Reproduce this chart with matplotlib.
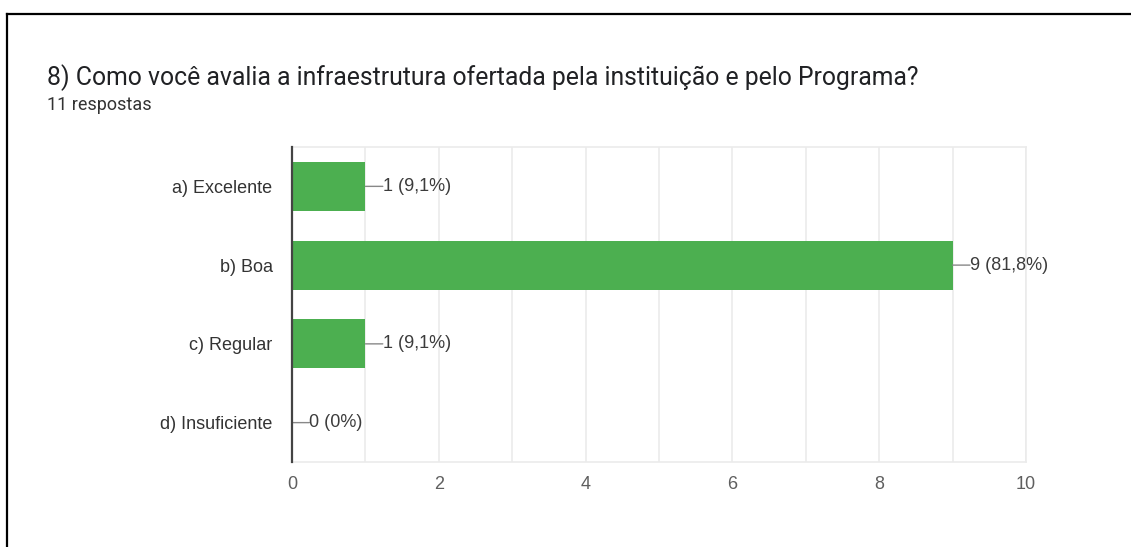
import matplotlib.pyplot as plt
from matplotlib.lines import Line2D

categorias = ['a) Excelente', 'b) Boa', 'c) Regular', 'd) Insuficiente']
respostas = [1, 9, 1, 0]
rotulos = ['1 (9,1%)', '9 (81,8%)', '1 (9,1%)', '0 (0%)']
ticks_x = [0, 2, 4, 6, 8, 10]

plt.rcParams['font.family'] = ['Liberation Sans', 'DejaVu Sans']

fig = plt.figure(figsize=(11.31, 5.47), dpi=100)
ax = fig.add_axes([0.2582, 0.1554, 0.649, 0.5759])

pos = list(range(len(categorias)))
ax.barh(pos, respostas, height=0.62, color='#4caf50', zorder=3)

# grade a cada unidade
ax.set_xlim(0, 10)
ax.set_ylim(3.5, -0.5)
ax.set_xticks(ticks_x)
ax.set_xticks(range(0, 11), minor=True)
ax.grid(axis='x', which='both', color='#ebebeb', linewidth=1.2, zorder=0)
ax.set_xticklabels([str(t) for t in ticks_x], fontsize=13, color='#5f5f5f')
ax.set_yticks(pos)
ax.set_yticklabels(categorias, fontsize=13, color='#333333')
ax.tick_params(which='both', length=0)
ax.tick_params(axis='x', pad=10)
ax.tick_params(axis='y', pad=14)

for s in ['top', 'right', 'bottom']:
    ax.spines[s].set_color('#ebebeb')
    ax.spines[s].set_linewidth(1.2)
ax.spines['left'].set_color('#444444')
ax.spines['left'].set_linewidth(1.6)
ax.spines['left'].set_zorder(4)

# rotulos com linha guia
for i, v in enumerate(respostas):
    ax.annotate('', xy=(v, i), xytext=(12.5, 0), textcoords='offset points',
                arrowprops=dict(arrowstyle='-', color='#888888', lw=1, shrinkA=0, shrinkB=0))
    ax.annotate(rotulos[i], xy=(v, i), xytext=(12.5, 0), textcoords='offset points',
                va='center', ha='left', fontsize=13, color='#3c3c3c')

fig.text(0.0416, 0.845, '8) Como você avalia a infraestrutura ofertada pela instituição e pelo Programa?',
         fontsize=17.8, family=['Roboto', 'DejaVu Sans'], color='#202124', va='baseline')
fig.text(0.0416, 0.798, '11 respostas', fontsize=13, family=['Roboto', 'DejaVu Sans'],
         color='#333333', va='baseline')

# moldura do recorte
fig.add_artist(Line2D([0.0066, 1.0], [0.9735, 0.9735], color='black', lw=1.6, transform=fig.transFigure))
fig.add_artist(Line2D([0.0066, 0.0066], [0.0, 0.9735], color='black', lw=1.6, transform=fig.transFigure))

fig.savefig('out.png', dpi=100)
